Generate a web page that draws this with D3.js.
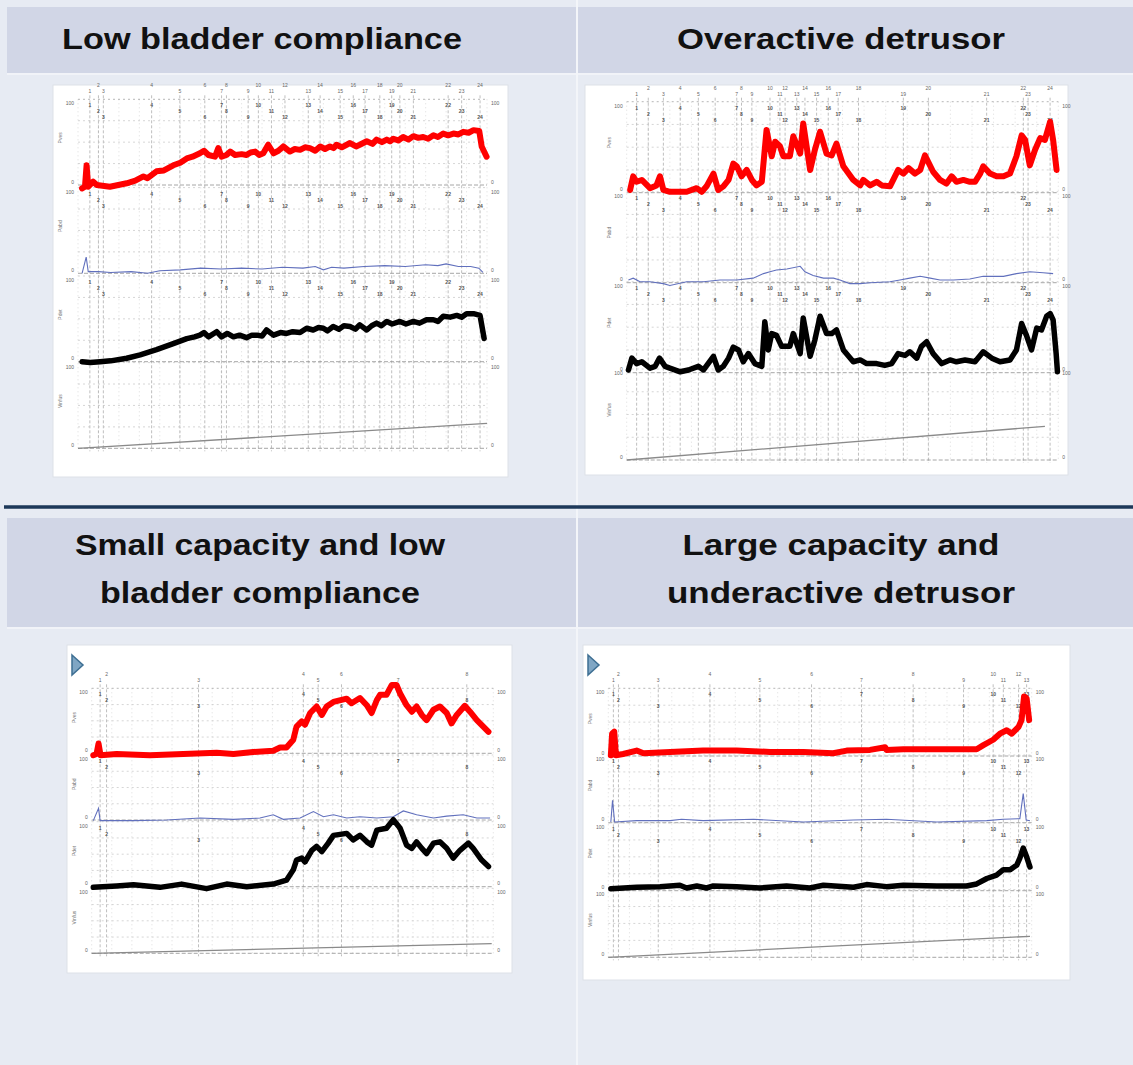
<!DOCTYPE html>
<html>
<head>
<meta charset="utf-8">
<script src="https://cdn.jsdelivr.net/npm/d3@7/dist/d3.min.js"></script>
<style>
  body { margin: 0; background: #e7ebf3; }
  svg { display: block; }
  text { font-family: "Liberation Sans", Arial, sans-serif; }
</style>
</head>
<body>
<div id="chart"></div>
<script>
// ---- data: time in % of study, pressures in % of channel full scale ----

// Low bladder compliance
const p1Ves = [[1,-4],[1.7,-2],[2.1,23],[2.5,-2],[3.7,4],[4.6,0],[7.8,-2],[11.9,2],[14,5],[16,10],[17,8],[19.2,16],[21,17],[23.3,23],[25,26],[26.6,31],[28,33],[29.8,37],[30.8,40],[31.9,35],[33.5,33],[34.3,43],[35.1,33],[36.3,35],[37.2,39],[38.4,35],[40,36],[41.2,35],[42.2,38],[43.3,39],[44.3,35],[45.3,37],[46.5,47],[47.8,37],[49,40],[50.2,45],[51.8,39],[53,42],[54.3,41],[55.5,44],[56.7,43],[58,40],[59.2,45],[60.4,42],[61.6,45],[62.5,43],[63.2,47],[64.5,44],[66.5,49],[68,45],[68.9,47],[70.6,51],[72,48],[73,53],[74.3,50],[75.5,53],[76.3,51],[77.1,54],[78.3,52],[79.5,56],[80.8,53],[82,57],[83.2,55],[84.4,56],[85.6,54],[86.9,58],[88,56],[89.3,60],[90.5,58],[91.8,60],[93,59],[94.2,62],[95.5,61],[96.7,64],[98.1,63],[98.7,45],[99.9,33]];
const p1Abd = [[1,0],[2,19],[2.5,2],[5,2],[8,1],[13,2],[17,0],[20,3],[25,4],[30,6],[35,5],[40,6],[45,5],[50,7],[55,6],[58,8],[60,4],[62,7],[65,6],[70,8],[75,9],[80,8],[85,10],[88,9],[90,11],[93,8],[96,8],[98,6],[99,1]];
const p1Det = [[1,0],[3,-1],[5.4,0],[8,1],[11.9,4],[15.2,8],[19.2,14],[23.3,21],[26.6,27],[28.5,29],[29.8,31],[30.8,34],[31.9,29],[33.9,35],[35.1,29],[36.5,33],[38,29],[39.5,31],[41.2,28],[42.5,31],[43.7,31],[45,30],[46.1,37],[47.8,31],[49.5,34],[51,33],[52.5,35],[54.3,34],[55.9,39],[57.5,37],[58.8,40],[60,39],[61,36],[62.4,41],[63.8,38],[65,42],[66.5,41],[67.8,38],[68.9,43],[70.6,37],[71.8,42],[73,45],[74.2,42],[75.5,47],[76.8,44],[78.7,47],[80.2,44],[82,47],[83.5,45],[85.2,49],[86.9,49],[88,47],[89.3,53],[91,52],[92.6,54],[93.8,52],[95,56],[96.7,56],[98.3,54],[99.3,27]];
const p1Vol = [[0,0],[100,29]];
const p1Events = [2.9,5,6.2,18,24.9,31,35.1,36.3,41.6,44.1,47.3,50.6,56.3,59.2,64.1,67.3,70.2,73.8,76.7,78.7,82,90.5,93.8,98.3];

// Overactive detrusor
const p2Ves = [[0.8,3],[1.5,18],[2.3,12],[3.5,14],[5.4,5],[6.9,8],[7.7,18],[8.5,3],[10,1],[13.9,1],[16.2,5],[17.4,1],[18.5,7],[20.1,21],[21.2,3],[22.4,7],[23.6,14],[24.7,32],[25.5,29],[26.6,18],[27.8,25],[29,14],[30.1,8],[31.3,12],[32.4,69],[33.6,40],[34.4,56],[35.5,51],[36.3,40],[37.8,40],[38.6,62],[40.2,43],[40.9,76],[42.5,25],[43.6,47],[44.8,67],[46.3,43],[47.5,41],[48.6,54],[50.2,29],[52.5,14],[54.1,8],[54.8,14],[56.4,8],[57.9,12],[59.1,8],[61,7],[62.9,25],[64.1,21],[65.3,27],[66.8,21],[68,25],[69.1,41],[71,23],[72.6,14],[74.1,10],[75.3,18],[76.4,12],[78,14],[79.5,12],[80.7,12],[81.9,21],[82.6,29],[84.2,21],[85.7,18],[87.3,18],[88.8,21],[90.3,40],[91.5,63],[92.3,58],[93.4,30],[94.6,47],[95.8,60],[96.9,58],[98.1,78],[98.8,58],[99.6,25]];
const p2Abd = [[0.4,3],[1.5,5],[3.1,1],[5.4,1],[8.5,-1],[10,-3],[13.9,1],[17.8,1],[21.6,3],[25.5,3],[29.3,5],[31.7,10],[33.2,12],[34.7,14],[37.1,15],[40.2,18],[41.3,12],[43.2,8],[45.6,5],[47.9,5],[49.4,3],[51.7,-1],[54.1,-1],[56.4,0],[61,1],[63.3,3],[65.6,5],[68,7],[70.3,5],[72.6,3],[75.7,3],[79.5,4],[82.6,7],[87.3,7],[90.3,10],[93.4,12],[96.5,11],[98.8,10]];
const p2Det = [[0.4,3],[1.2,16],[2.3,10],[3.5,12],[5.4,5],[6.6,7],[7.6,16],[8.9,7],[10,5],[12.4,1],[14.3,3],[16.6,7],[17.8,3],[20.1,18],[21.2,3],[22.4,7],[23.6,16],[24.7,28],[25.9,25],[27,12],[28.2,21],[29.7,10],[31.3,7],[32,56],[32.8,25],[33.6,43],[34.7,41],[35.9,29],[37.8,29],[38.6,43],[40.2,21],[40.9,60],[42.5,18],[43.6,36],[44.8,62],[46.3,43],[47.5,43],[48.6,47],[50.2,25],[52.5,12],[54.1,14],[55.6,10],[57.9,10],[59.8,8],[61.4,10],[62.9,21],[64.5,19],[65.6,23],[67.2,16],[68.3,29],[69.5,34],[71,21],[73,10],[74.9,14],[76.4,12],[78.4,14],[80.7,12],[82.6,23],[84.6,16],[86.5,12],[88.8,14],[90.3,25],[91.5,54],[92.7,40],[93.8,25],[95,49],[96.1,47],[97.3,62],[98.1,65],[98.8,58],[99.5,21],[99.8,1]];
const p2Vol = [[0,0],[96.9,37]];
const p2Events = [2.3,5,8.5,12.4,16.6,20.5,25.5,26.6,29,33.2,35.5,36.7,39.4,41.3,44,46.7,49,53.7,64.1,69.9,83.4,91.9,93,98.1];

// Small capacity and low bladder compliance
const p3Ves = [[0.4,-3],[1.2,-1],[1.7,15],[2.2,-3],[6.2,-1],[14.5,-3],[22.8,-1],[31.1,1],[35.3,-1],[40.2,2],[45.2,4],[46.9,9],[48.5,9],[50.2,21],[51,41],[52.3,49],[53.1,44],[54.4,62],[56,72],[57.3,59],[58.5,72],[60.2,79],[63.5,84],[64.7,77],[66.8,85],[68.5,74],[69.7,62],[71,82],[71.8,90],[73.4,90],[74.7,105],[75.9,105],[76.8,92],[78.4,74],[79.7,64],[80.9,72],[82.2,59],[83.4,51],[85.1,67],[86.7,72],[88.4,62],[89.6,46],[90.9,59],[92.9,73],[94.2,64],[95.9,51],[98.8,33]];
const p3Abd = [[0.4,-1],[1.7,18],[2.1,-1],[10.4,-1],[18.7,0],[27,3],[35.3,1],[41.9,3],[45.2,8],[47.7,1],[51.9,3],[55.2,13],[57.7,5],[60.2,8],[63.5,3],[66.8,5],[71,3],[75.1,5],[77.6,14],[80.9,8],[85.1,3],[88.4,6],[92.5,8],[95.9,3],[99.2,3]];
const p3Det = [[0.4,-1],[6.2,1],[10.4,3],[17,-1],[22.4,4],[28.6,-3],[33.6,4],[38.6,0],[45.2,4],[48.5,10],[50.2,26],[51,41],[52.3,44],[53.1,38],[54.8,56],[56,62],[57.3,54],[58.9,67],[60.2,79],[63.5,82],[65.1,72],[66.8,79],[68.5,69],[69.7,64],[71,87],[73.4,90],[75.1,103],[76.8,90],[78.4,64],[79.7,59],[80.9,69],[82.2,59],[83.4,51],[85.1,67],[86.7,69],[88.4,59],[90,44],[91.7,56],[93.8,67],[95,59],[97.1,41],[98.8,31]];
const p3Vol = [[0,0],[99.6,15]];
const p3Events = [2.1,3.7,26.6,52.7,56.4,62.2,76.3,93.4];

// Large capacity and underactive detrusor
const p4Ves = [[0.6,1],[0.9,33],[1.4,36],[1.8,1],[3.5,3],[6.7,8],[8.3,4],[14.6,6],[22.4,8],[30.3,8],[38.2,6],[46.1,6],[53.1,4],[56.3,8],[61.8,9],[65.4,13],[65.7,9],[69.7,10],[77.6,10],[87,10],[88.6,16],[90.9,24],[92.5,33],[94.1,38],[95.3,33],[96.9,43],[97.6,53],[98.2,88],[98.8,85],[99.4,53]];
const p4Abd = [[0.6,1],[1,33],[1.5,1],[6.7,3],[14.6,3],[17.3,5],[22.4,3],[34.3,5],[46.1,1],[57.9,4],[65.7,5],[77.6,1],[89.4,3],[93.3,5],[97.2,6],[98,43],[98.7,4],[99.6,3]];
const p4Det = [[0.6,3],[6.7,5],[12.2,6],[16.9,8],[18.5,4],[20.9,7],[23.2,4],[24.8,7],[30.3,6],[35.8,4],[42.1,7],[47.6,4],[50.8,8],[57.9,5],[61,9],[65.7,6],[69.7,8],[77.6,7],[84.6,7],[87,10],[89.4,18],[91.7,23],[93.3,31],[94.9,31],[96.5,38],[97.2,48],[98,63],[98.8,50],[99.6,35]];
const p4Vol = [[0,0],[99.6,31]];
const p4Events = [1.2,2.4,11.8,24,35.8,48,59.8,72,83.9,90.9,93.3,96.9,98.8];

const channelNames = ['Pves', 'Pabd', 'Pdet', 'Vinfus'];
const titles = [
  ['Low bladder compliance'],
  ['Overactive detrusor'],
  ['Small capacity and low', 'bladder compliance'],
  ['Large capacity and', 'underactive detrusor']
];

// ---- layout ----
const W = 1133, H = 1065;
const panels = [
  { title: titles[0], cx: 262, ty: [49], tw: [400], box: [53, 85, 455, 392], left: 78, right: 487,
    bases: [185, 273.3, 361.7, 448.3], span: 85.7, ves: p1Ves, abd: p1Abd, det: p1Det, vol: p1Vol, events: p1Events, logo: false },
  { title: titles[1], cx: 841, ty: [49], tw: [328], box: [585, 85, 483, 390], left: 626.7, right: 1058.3,
    bases: [192.7, 282.7, 372.7, 460], span: 91, ves: p2Ves, abd: p2Abd, det: p2Det, vol: p2Vol, events: p2Events, logo: false },
  { title: titles[2], cx: 260, ty: [555, 603], tw: [370, 320], box: [67, 645, 445, 328], left: 91.7, right: 493.3,
    bases: [753.3, 820, 886.7, 953.3], span: 65, ves: p3Ves, abd: p3Abd, det: p3Det, vol: p3Vol, events: p3Events, logo: true },
  { title: titles[3], cx: 841, ty: [555, 603], tw: [317, 348], box: [583, 645, 487, 335], left: 608.3, right: 1031.7,
    bases: [756, 822.7, 890.7, 957.3], span: 67.7, ves: p4Ves, abd: p4Abd, det: p4Det, vol: p4Vol, events: p4Events, logo: true }
];

const svg = d3.select('#chart').append('svg')
  .attr('width', W)
  .attr('height', H);

svg.append('rect').attr('width', W).attr('height', H).attr('fill', '#e7ebf3');

// header bands
svg.append('rect').attr('x', 7).attr('y', 7).attr('width', W - 7).attr('height', 66).attr('fill', '#d1d6e6');
svg.append('rect').attr('x', 7).attr('y', 518).attr('width', W - 7).attr('height', 109).attr('fill', '#d1d6e6');
svg.append('rect').attr('x', 7).attr('y', 73).attr('width', W - 7).attr('height', 2).attr('fill', '#f1f3f8');
svg.append('rect').attr('x', 7).attr('y', 627).attr('width', W - 7).attr('height', 2).attr('fill', '#f1f3f8');

// column divider and row separator
svg.append('line').attr('x1', 577).attr('x2', 577).attr('y1', 0).attr('y2', H)
  .attr('stroke', '#f3f5f9').attr('stroke-width', 2);
svg.append('line').attr('x1', 4).attr('x2', W).attr('y1', 507).attr('y2', 507)
  .attr('stroke', '#1d3859').attr('stroke-width', 3.5);

function drawPanel(p) {
  const g = svg.append('g');

  // titles
  p.title.forEach((t, i) => {
    g.append('text')
      .attr('x', p.cx - p.tw[i] / 2)
      .attr('y', p.ty[i])
      .attr('textLength', p.tw[i])
      .attr('lengthAdjust', 'spacingAndGlyphs')
      .attr('font-size', 30)
      .attr('font-weight', 'bold')
      .attr('fill', '#111')
      .text(t);
  });

  // white tracing sheet
  g.append('rect')
    .attr('x', p.box[0]).attr('y', p.box[1])
    .attr('width', p.box[2]).attr('height', p.box[3])
    .attr('fill', '#fff').attr('stroke', '#dde1e8');

  const x = d3.scaleLinear().domain([0, 100]).range([p.left, p.right]);
  const ys = p.bases.map(b => d3.scaleLinear().domain([0, 100]).range([b, b - p.span]));
  const top = ys[0](100), bottom = p.bases[3];

  // fine vertical grid
  g.selectAll('line.vgrid').data(d3.range(0, 101, 5)).join('line')
    .attr('class', 'vgrid')
    .attr('x1', d => x(d)).attr('x2', d => x(d))
    .attr('y1', top).attr('y2', bottom)
    .attr('stroke', '#cfcfcf').attr('stroke-width', 0.7).attr('stroke-dasharray', '1,3');

  // event markers
  g.selectAll('line.event').data(p.events).join('line')
    .attr('class', 'event')
    .attr('x1', d => x(d)).attr('x2', d => x(d))
    .attr('y1', top - 4).attr('y2', bottom + 3)
    .attr('stroke', '#a3a3a3').attr('stroke-width', 0.7).attr('stroke-dasharray', '3,2');

  // channel grids, labels, scale numbers
  ys.forEach((y, ci) => {
    g.selectAll('line.hgrid' + ci).data([25, 50, 75, 100]).join('line')
      .attr('class', 'hgrid' + ci)
      .attr('x1', p.left).attr('x2', p.right)
      .attr('y1', d => y(d)).attr('y2', d => y(d))
      .attr('stroke', d => d === 100 && ci === 0 ? '#9a9a9a' : '#c4c4c4')
      .attr('stroke-width', 0.7).attr('stroke-dasharray', '2,3');
    g.append('line')
      .attr('x1', p.left).attr('x2', p.right)
      .attr('y1', y(0)).attr('y2', y(0))
      .attr('stroke', '#8f8f8f').attr('stroke-width', 0.8).attr('stroke-dasharray', '4,2');

    g.append('text')
      .attr('transform', `translate(${p.left - 16},${y(55)}) rotate(-90)`)
      .attr('text-anchor', 'middle')
      .attr('font-size', 5).attr('fill', '#777')
      .text(channelNames[ci]);
    // full scale just below the channel top, zero just above the baseline
    [[0, '0', -1.5], [100, '100', 6]].forEach(([v, s, dy]) => {
      g.append('text').attr('x', p.left - 4).attr('y', y(v) + dy)
        .attr('text-anchor', 'end').attr('font-size', 5).attr('fill', '#666').text(s);
      g.append('text').attr('x', p.right + 4).attr('y', y(v) + dy)
        .attr('font-size', 5).attr('fill', '#666').text(s);
    });

    // event annotations under each channel top
    if (ci < 3) {
      g.selectAll('text.ev' + ci).data(p.events).join('text')
        .attr('class', 'ev' + ci)
        .attr('x', d => x(d))
        .attr('y', (d, i) => y(100) + 8 + (i % 3) * 6)
        .attr('text-anchor', 'middle')
        .attr('font-size', 5).attr('font-weight', 'bold').attr('fill', '#555')
        .text((d, i) => i + 1);
    }
  });

  // top event strip, two staggered rows
  g.selectAll('text.evtop').data(p.events).join('text')
    .attr('class', 'evtop')
    .attr('x', d => x(d))
    .attr('y', (d, i) => top - 6 - (i % 2) * 6)
    .attr('text-anchor', 'middle')
    .attr('font-size', 5).attr('fill', '#666')
    .text((d, i) => i + 1);

  if (p.logo) {
    g.append('path')
      .attr('d', `M${p.box[0] + 5},${p.box[1] + 10} L${p.box[0] + 16},${p.box[1] + 20} L${p.box[0] + 5},${p.box[1] + 30} Z`)
      .attr('fill', '#7fa6c4').attr('stroke', '#3e6f93').attr('stroke-width', 1.5);
  }

  const line = y => d3.line().x(d => x(d[0])).y(d => y(d[1]));

  // volume
  g.append('path').datum(p.vol)
    .attr('d', line(ys[3]))
    .attr('fill', 'none').attr('stroke', '#8a8a8a').attr('stroke-width', 1.3);

  // abdominal pressure
  g.append('path').datum(p.abd)
    .attr('d', line(ys[1]))
    .attr('fill', 'none').attr('stroke', '#6170bd').attr('stroke-width', 1.1);

  // vesical pressure
  g.append('path').datum(p.ves)
    .attr('d', line(ys[0]))
    .attr('fill', 'none').attr('stroke', '#ff0000').attr('stroke-width', 6)
    .attr('stroke-linejoin', 'round').attr('stroke-linecap', 'round');

  // detrusor pressure
  g.append('path').datum(p.det)
    .attr('d', line(ys[2]))
    .attr('fill', 'none').attr('stroke', '#000').attr('stroke-width', 5.5)
    .attr('stroke-linejoin', 'round').attr('stroke-linecap', 'round');
}

panels.forEach(drawPanel);
</script>
</body>
</html>
